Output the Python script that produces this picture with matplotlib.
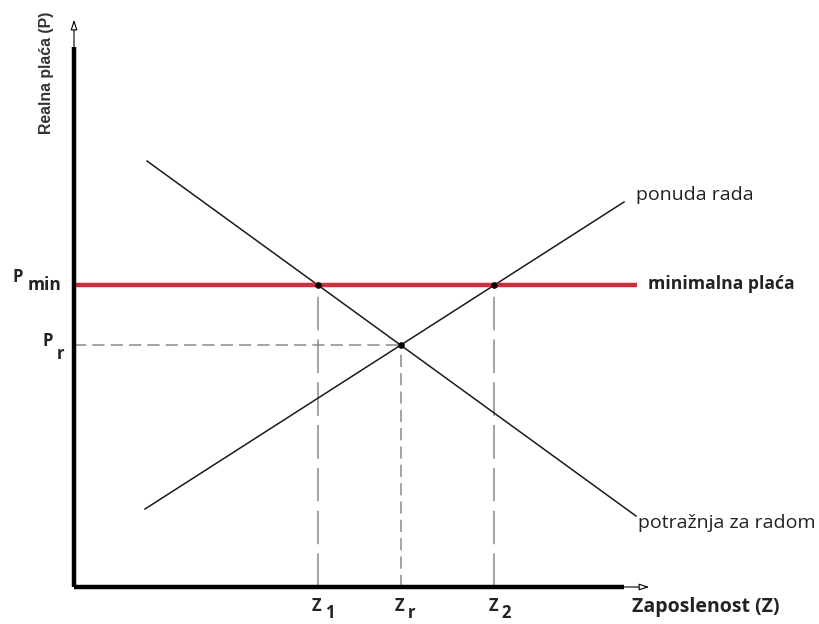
import matplotlib.pyplot as plt
import numpy as np

# chart units: origin at the axes corner, 1 unit ~ 1 px
demand_x = [73, 562]
demand_y = [426, 71]
supply_x = [71, 550]
supply_y = [78, 385]
p_min = 302
min_wage_x = [0, 563]
x_axis_end = 578
y_axis_end = 570

labels = {
    "demand": "potražnja za radom",
    "supply": "ponuda rada",
    "min": "minimalna plaća",
    "xlabel": "Zaposlenost (Z)",
    "ylabel": "Realna plaća (P)",
}


def line_coef(xs, ys):
    k = (ys[1] - ys[0]) / (xs[1] - xs[0])
    return k, ys[0] - k * xs[0]


kd, bd = line_coef(demand_x, demand_y)
ks, bs = line_coef(supply_x, supply_y)
z_r = (bd - bs) / (ks - kd)
p_r = ks * z_r + bs
z_1 = (p_min - bd) / kd
z_2 = (p_min - bs) / ks

fig = plt.figure(figsize=(8.19, 6.24), dpi=100)
ax = fig.add_axes([0, 0, 1, 1])
ax.set_xlim(-74, 745)
ax.set_ylim(-37, 587)
ax.axis("off")

font = "Open Sans"
txt = "#222222"

# axes with arrows
ax.plot([0, 550], [0, 0], color="black", lw=3.2, solid_capstyle="butt", zorder=3)
ax.plot([0, 0], [0, 540], color="black", lw=3.2, solid_capstyle="butt", zorder=3)
ax.annotate("", xy=(x_axis_end, 0), xytext=(545, 0),
            arrowprops=dict(arrowstyle="-|>,head_length=0.6,head_width=0.2",
                            fc="white", ec="black", lw=0.8))
ax.annotate("", xy=(0, y_axis_end), xytext=(0, 535),
            arrowprops=dict(arrowstyle="-|>,head_length=0.6,head_width=0.2",
                            fc="white", ec="black", lw=0.8))

# guide lines
ax.plot([z_1, z_1], [0, p_min], color="#8a8a8a", lw=1.1, dashes=(22, 6), zorder=1)
ax.plot([z_2, z_2], [0, p_min], color="#8a8a8a", lw=1.1, dashes=(22, 6), zorder=1)
ax.plot([z_r, z_r], [0, p_r], color="#8a8a8a", lw=1.1, dashes=(8, 4), zorder=1)
ax.plot([0, z_r], [p_r, p_r], color="#8a8a8a", lw=1.1, dashes=(8, 4), zorder=1)

# curves
ax.plot(demand_x, demand_y, color="#1a1a1a", lw=1.1, zorder=2)
ax.plot(supply_x, supply_y, color="#1a1a1a", lw=1.1, zorder=2)
ax.plot(min_wage_x, [p_min, p_min], color="#c9303c", lw=3.2, solid_capstyle="butt", zorder=2)

ax.scatter([z_1, z_2, z_r], [p_min, p_min, p_r], s=14, color="black", zorder=4)

# curve labels
ax.text(562, 392, labels["supply"], fontsize=14, family=font, color=txt, va="center")
ax.text(564, 64, labels["demand"], fontsize=14, family=font, color=txt, va="center")
ax.text(574, p_min + 1, labels["min"], fontsize=12.6, family=font, weight="bold",
        color=txt, va="center")
ax.text(558, -20, labels["xlabel"], fontsize=14, family=font, weight="bold",
        color=txt, va="center")
ax.text(-27, 514, labels["ylabel"], fontsize=11.4, family="Liberation Sans", weight="bold",
        color="#333333", rotation=90, ha="center", va="center")

# axis symbols
ax.text(-61, 310, "P", fontsize=12, family=font, weight="bold", color=txt, va="center")
ax.text(-46, 302, "min", fontsize=12.5, family=font, weight="bold", color=txt, va="center")
ax.text(-31, p_r + 4, "P", fontsize=12, family=font, weight="bold", color=txt, va="center")
ax.text(-17, p_r - 9, "r", fontsize=12, family=font, weight="bold", color=txt, va="center")
for zx, sub in [(z_1, "1"), (z_r, "r"), (z_2, "2")]:
    ax.text(zx - 6, -19, "Z", fontsize=12, family=font, weight="bold", color=txt, va="center")
    ax.text(zx + 7, -26, sub, fontsize=12, family=font, weight="bold", color=txt, va="center")

fig.savefig("out.png", dpi=100)
